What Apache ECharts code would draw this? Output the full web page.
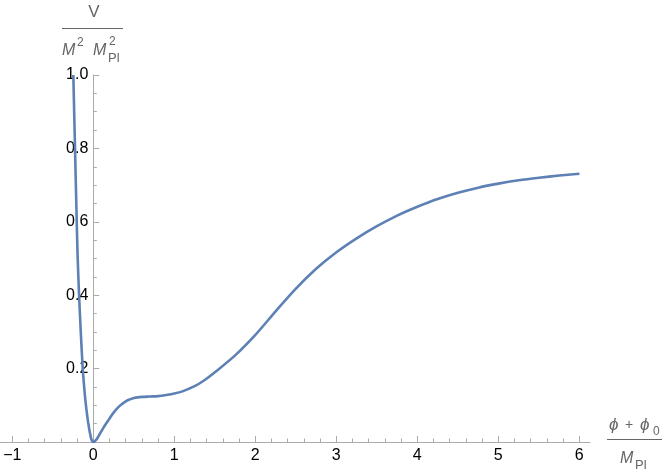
<!DOCTYPE html>
<html>
<head>
<meta charset="utf-8">
<script src="https://cdn.jsdelivr.net/npm/echarts@6/dist/echarts.min.js"></script>
<style>html,body{margin:0;padding:0;background:#fff}#c{width:664px;height:474px}</style>
</head>
<body>
<div id="c"></div>
<script>
// Potential curve V/(M^2 Mpl^2) vs (phi+phi0)/Mpl
const xVals = [-0.247, -0.226, -0.205, -0.193, -0.176, -0.155, -0.131, -0.113, -0.094, -0.062, -0.03, -0.012, 0,
  0.04, 0.08, 0.12, 0.16, 0.2, 0.25, 0.3, 0.35, 0.4, 0.45, 0.5, 0.6, 0.7, 0.8, 0.9, 1.0, 1.1, 1.25, 1.375,
  1.5, 1.75, 2.0, 2.25, 2.5, 2.75, 3.0, 3.25, 3.5, 3.75, 4.0, 4.25, 4.5, 4.75, 5.0, 5.25, 5.5, 5.75, 6.0];
const yVals = [1.0, 0.8, 0.6, 0.5, 0.4, 0.3, 0.2, 0.15, 0.105, 0.05, 0.012, 0.002, 0,
  0.007, 0.022, 0.037, 0.051, 0.064, 0.08, 0.093, 0.103, 0.111, 0.116, 0.12, 0.123, 0.124, 0.125, 0.128, 0.132, 0.138, 0.152, 0.169,
  0.19, 0.236, 0.292, 0.356, 0.418, 0.472, 0.517, 0.555, 0.588, 0.617, 0.641, 0.662, 0.679, 0.693, 0.704, 0.713, 0.72, 0.726, 0.731];
const xTickLabels = ['-1', '0', '1', '2', '3', '4', '5', '6'];
const yTickLabels = ['0.2', '0.4', '0.6', '0.8', '1.0'];

const axisGray = '#aaaaaa';
const labelFont = { fontFamily: 'Liberation Sans', fontSize: 16, color: '#000' };
const nameColor = '#666666';

const chart = echarts.init(document.getElementById('c'), null, { renderer: 'canvas' });
const data = xVals.map((x, i) => [x, yVals[i]]);

const baseGrid = { top: 75, height: 367, containLabel: false, outerBoundsMode: 'none' };

chart.setOption({
  animation: false,
  backgroundColor: '#fff',
  grid: [
    Object.assign({ left: 0, width: 590 }, baseGrid),      // plot + x axis line
    Object.assign({ left: 12.3, width: 567 }, baseGrid),   // x ticks and labels (-1..6)
    Object.assign({ left: 93.3, width: 496.7 }, baseGrid)  // y axis at x = 0
  ],
  xAxis: [
    { type: 'value', gridIndex: 0, min: -1.152, max: 6.13,
      axisLine: { show: true, onZero: false, lineStyle: { color: axisGray, width: 1 } },
      axisTick: { show: false }, axisLabel: { show: false }, splitLine: { show: false } },
    { type: 'value', gridIndex: 1, min: -1, max: 6, interval: 1,
      axisLine: { show: false, onZero: false },
      axisTick: { show: true, inside: true, length: 6, lineStyle: { color: axisGray } },
      minorTick: { show: true, splitNumber: 5, length: 3.5, lineStyle: { color: axisGray } },
      axisLabel: { show: true, margin: 6, ...labelFont,
        formatter: v => { const i = Math.round(v) + 1; return (xTickLabels[i] || '').replace('-', '\u2212'); } },
      splitLine: { show: false } },
    { type: 'value', gridIndex: 2, min: 0, max: 6.13, show: false }
  ],
  yAxis: [
    { type: 'value', gridIndex: 0, min: 0, max: 1, show: false },
    { type: 'value', gridIndex: 1, min: 0, max: 1, show: false },
    { type: 'value', gridIndex: 2, min: 0, max: 1, interval: 0.2, position: 'left',
      axisLine: { show: true, onZero: false, lineStyle: { color: axisGray, width: 1 } },
      axisTick: { show: true, inside: true, length: 6, lineStyle: { color: axisGray } },
      minorTick: { show: true, splitNumber: 4, length: 3.5, lineStyle: { color: axisGray } },
      axisLabel: { show: true, margin: 5, ...labelFont,
        formatter: v => { const i = Math.round(v / 0.2) - 1; return i >= 0 ? yTickLabels[i] : ''; } },
      splitLine: { show: false } }
  ],
  series: [{
    type: 'line', xAxisIndex: 0, yAxisIndex: 0, data: data,
    showSymbol: false, smooth: 0.3, clip: false,
    lineStyle: { color: '#5E81B5', width: 2.6 }
  }],
  graphic: [
    // y-axis name: V / (M^2 M_Pl^2)
    { type: 'text', x: 94, y: 12, style: { text: 'V', font: '17px Liberation Sans', fill: nameColor, align: 'center', verticalAlign: 'middle' } },
    { type: 'line', shape: { x1: 62, y1: 28.5, x2: 123, y2: 28.5 }, style: { stroke: nameColor, lineWidth: 1 } },
    { type: 'text', x: 62, y: 51, style: { text: 'M', font: 'italic 16px Liberation Sans', fill: nameColor, align: 'left', verticalAlign: 'middle' } },
    { type: 'text', x: 77, y: 43, style: { text: '2', font: '12px Liberation Sans', fill: nameColor, align: 'left', verticalAlign: 'middle' } },
    { type: 'text', x: 93, y: 51, style: { text: 'M', font: 'italic 16px Liberation Sans', fill: nameColor, align: 'left', verticalAlign: 'middle' } },
    { type: 'text', x: 109, y: 42, style: { text: '2', font: '12px Liberation Sans', fill: nameColor, align: 'left', verticalAlign: 'middle' } },
    { type: 'text', x: 108, y: 58, style: { text: 'Pl', font: '13px Liberation Sans', fill: nameColor, align: 'left', verticalAlign: 'middle' } },
    // x-axis name: (phi + phi_0) / M_Pl
    { type: 'text', x: 609, y: 425, style: { text: '\u03D5', font: 'italic 17px Liberation Sans', fill: nameColor, align: 'left', verticalAlign: 'middle' } },
    { type: 'text', x: 625, y: 425, style: { text: '+', font: '14px Liberation Sans', fill: nameColor, align: 'left', verticalAlign: 'middle' } },
    { type: 'text', x: 640, y: 425, style: { text: '\u03D5', font: 'italic 17px Liberation Sans', fill: nameColor, align: 'left', verticalAlign: 'middle' } },
    { type: 'text', x: 653, y: 432, style: { text: '0', font: '12px Liberation Sans', fill: nameColor, align: 'left', verticalAlign: 'middle' } },
    { type: 'line', shape: { x1: 607, y1: 439.5, x2: 662, y2: 439.5 }, style: { stroke: nameColor, lineWidth: 1 } },
    { type: 'text', x: 620, y: 459, style: { text: 'M', font: 'italic 16px Liberation Sans', fill: nameColor, align: 'left', verticalAlign: 'middle' } },
    { type: 'text', x: 635, y: 465, style: { text: 'Pl', font: '13px Liberation Sans', fill: nameColor, align: 'left', verticalAlign: 'middle' } }
  ]
});
</script>
</body>
</html>
